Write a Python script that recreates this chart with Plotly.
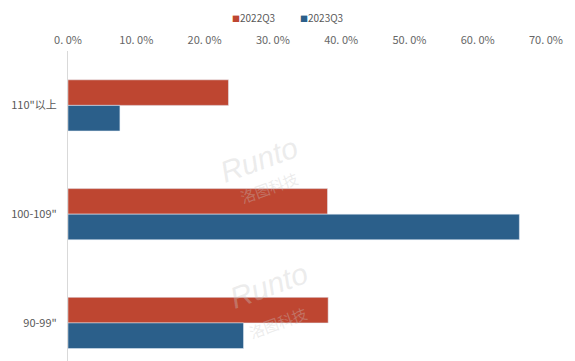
import plotly.graph_objects as go

categories = ['110"以上', '100-109"', '90-99"']
s2022 = [0.235, 0.380, 0.381]
s2023 = [0.076, 0.661, 0.257]
tick_vals = [0, 0.1, 0.2, 0.3, 0.4, 0.5, 0.6, 0.7]
tick_text = ["0. 0%", "10. 0%", "20. 0%", "30. 0%", "40. 0%", "50. 0%", "60. 0%", "70. 0%"]
series_names = ["2022Q3", "2023Q3"]
colors = ["#BE4631", "#2B5F8A"]

font = dict(family="Noto Sans CJK SC, Noto Sans, sans-serif", size=11, color="#595959")

fig = go.Figure()
for name, vals, c in zip(series_names, [s2022, s2023], colors):
    fig.add_trace(go.Bar(name=name, y=categories, x=vals, orientation="h",
                         marker=dict(color=c), showlegend=False))

fig.update_layout(
    width=575, height=361,
    margin=dict(l=68, r=29, t=51, b=0),
    paper_bgcolor="white", plot_bgcolor="white",
    barmode="group", bargap=0.53, bargroupgap=0,
    font=font,
    xaxis=dict(side="top", range=[0, 0.7], tickvals=tick_vals, ticktext=tick_text,
               showgrid=False, zeroline=False, showline=False, ticks="",
               ticklabelstandoff=4, tickfont=dict(size=11, color="#666666")),
    yaxis=dict(type="category", categoryorder="array", categoryarray=categories,
               range=[2.35, -0.5], showgrid=False, zeroline=False,
               showline=True, linecolor="#d9d9d9", linewidth=1, ticks="",
               ticklabelstandoff=8, tickfont=dict(size=11, color="#595959")),
)

# legend as text annotations (small square markers like the reference)
for xpix, name, c in zip([230, 298], series_names, colors):
    fig.add_annotation(x=(xpix - 68) / 478, y=1 + (51 - 17) / 310, xref="paper", yref="paper",
                       xanchor="left", yanchor="middle", showarrow=False,
                       text=f"<span style='color:{c};font-size:8px'>■</span>{name}",
                       font=dict(size=10, color="#595959"))

# faint watermarks
for (x, y) in [(0.40, 0.65), (0.42, 0.14)]:
    fig.add_annotation(x=x, y=y, xref="paper", yref="paper", text="<i>Runto</i>",
                       showarrow=False, textangle=-20,
                       font=dict(size=30, color="rgba(200,200,200,0.35)", family="Liberation Sans"))
    fig.add_annotation(x=x + 0.02, y=y - 0.09, xref="paper", yref="paper", text="洛图科技",
                       showarrow=False, textangle=-20,
                       font=dict(size=15, color="rgba(200,200,200,0.35)"))

fig.write_html("out.html")
